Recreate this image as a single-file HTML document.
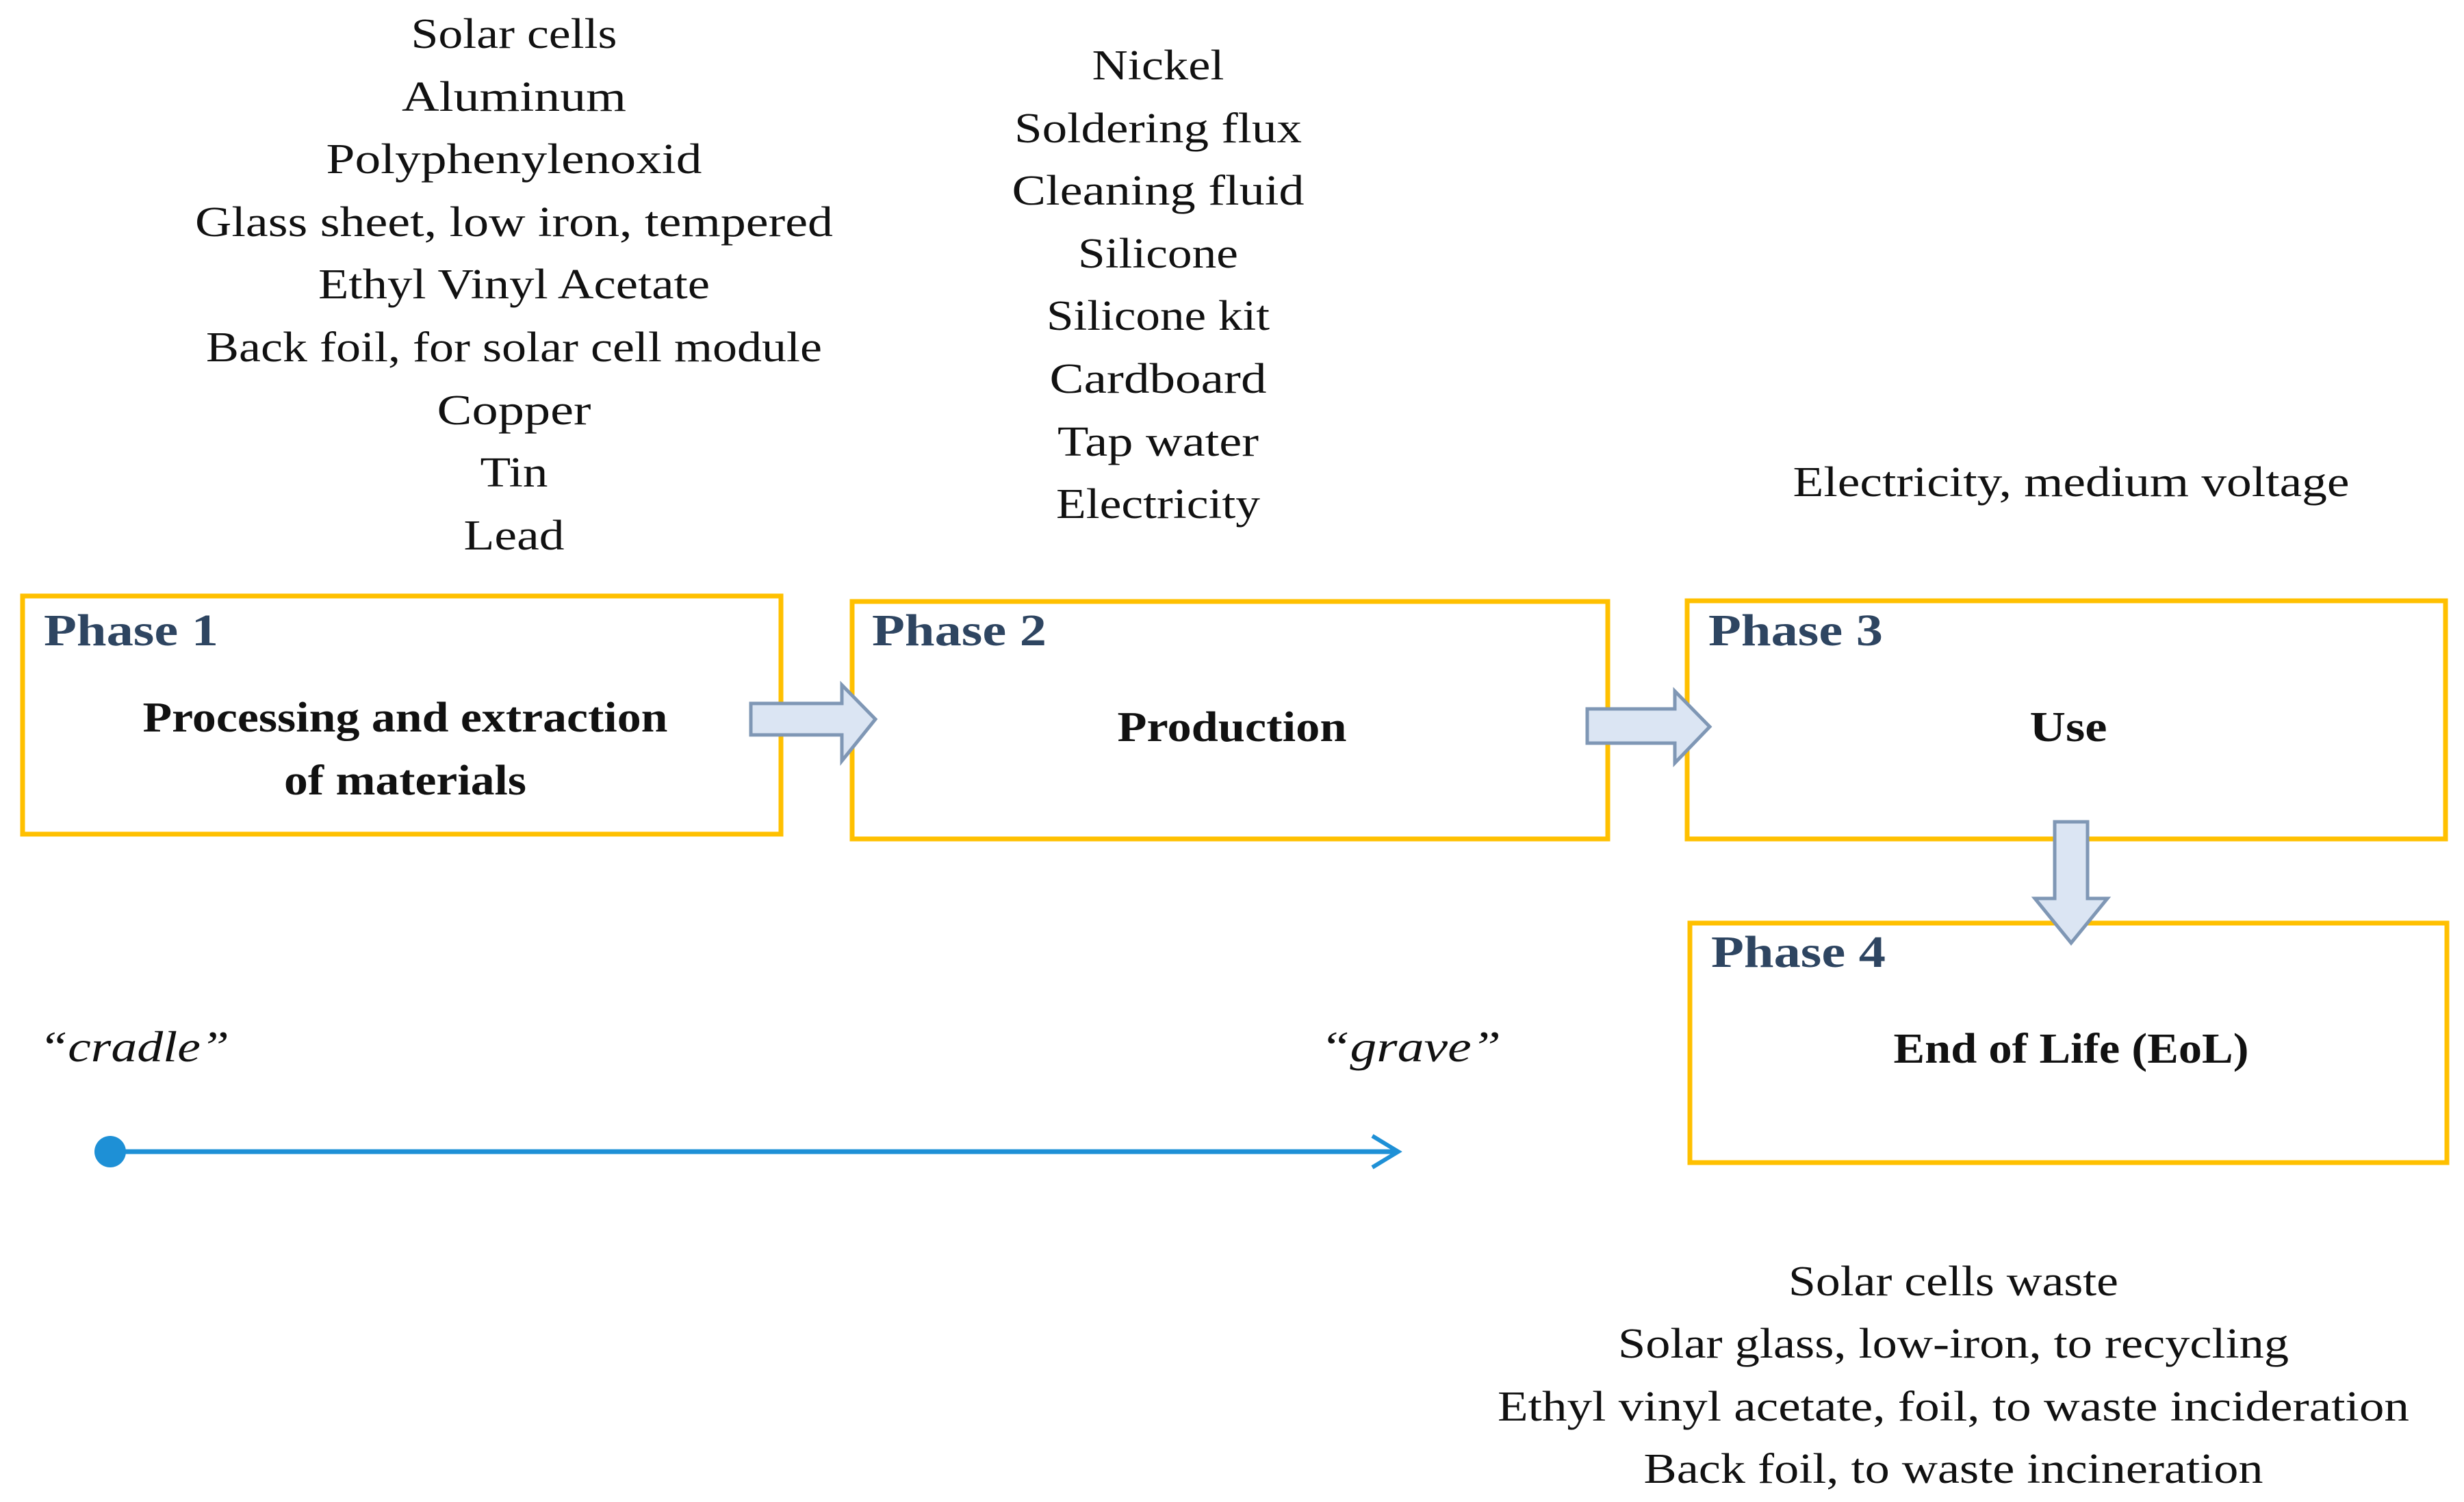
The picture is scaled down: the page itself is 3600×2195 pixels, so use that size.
<!DOCTYPE html>
<html><head><meta charset="utf-8"><style>
html,body{margin:0;padding:0;background:#fff;}
svg{display:block;}
.l{font-family:"Liberation Serif",serif;font-size:62px;fill:#111;}
.b{font-family:"Liberation Serif",serif;font-size:62px;font-weight:bold;fill:#111;}
.p{font-family:"Liberation Serif",serif;font-size:66px;font-weight:bold;fill:#2e4561;}
.i{font-family:"Liberation Serif",serif;font-size:64px;font-style:italic;fill:#111;}
</style></head><body>
<svg width="3600" height="2195" viewBox="0 0 3600 2195" xmlns="http://www.w3.org/2000/svg">
<g fill="none" stroke="#ffc000" stroke-width="7">
<rect x="33" y="871" width="1108" height="348"/>
<rect x="1245" y="879" width="1104" height="347"/>
<rect x="2465" y="878" width="1108" height="348"/>
<rect x="2469" y="1349" width="1106" height="350"/>
</g>
<g fill="#dbe5f3" stroke="#7f97b5" stroke-width="5" stroke-linejoin="miter">
<polygon points="1097,1028 1230,1028 1230,1001 1279,1051 1230,1112 1230,1074 1097,1074"/>
<polygon points="2319,1036 2447,1036 2447,1010 2498,1062 2447,1115 2447,1086 2319,1086"/>
<polygon points="3002,1201 3050,1201 3050,1313 3079,1313 3026,1378 2973,1313 3002,1313"/>
</g>
<g class="l" text-anchor="middle">
<text x="751" y="70" textLength="301" lengthAdjust="spacingAndGlyphs">Solar cells</text>
<text x="751" y="162" textLength="328" lengthAdjust="spacingAndGlyphs">Aluminum</text>
<text x="751" y="253" textLength="549" lengthAdjust="spacingAndGlyphs">Polyphenylenoxid</text>
<text x="751" y="345" textLength="932" lengthAdjust="spacingAndGlyphs">Glass sheet, low iron, tempered</text>
<text x="751" y="436" textLength="572" lengthAdjust="spacingAndGlyphs">Ethyl Vinyl Acetate</text>
<text x="751" y="528" textLength="900" lengthAdjust="spacingAndGlyphs">Back foil, for solar cell module</text>
<text x="751" y="620" textLength="225" lengthAdjust="spacingAndGlyphs">Copper</text>
<text x="751" y="711" textLength="99" lengthAdjust="spacingAndGlyphs">Tin</text>
<text x="751" y="803" textLength="147" lengthAdjust="spacingAndGlyphs">Lead</text>
<text x="1692" y="116" textLength="193" lengthAdjust="spacingAndGlyphs">Nickel</text>
<text x="1692" y="208" textLength="420" lengthAdjust="spacingAndGlyphs">Soldering flux</text>
<text x="1692" y="299" textLength="427" lengthAdjust="spacingAndGlyphs">Cleaning fluid</text>
<text x="1692" y="391" textLength="234" lengthAdjust="spacingAndGlyphs">Silicone</text>
<text x="1692" y="482" textLength="326" lengthAdjust="spacingAndGlyphs">Silicone kit</text>
<text x="1692" y="574" textLength="317" lengthAdjust="spacingAndGlyphs">Cardboard</text>
<text x="1692" y="666" textLength="294" lengthAdjust="spacingAndGlyphs">Tap water</text>
<text x="1692" y="757" textLength="298" lengthAdjust="spacingAndGlyphs">Electricity</text>
<text x="3026" y="725" textLength="813" lengthAdjust="spacingAndGlyphs">Electricity, medium voltage</text>
<text x="2854" y="1893" textLength="482" lengthAdjust="spacingAndGlyphs">Solar cells waste</text>
<text x="2854" y="1984" textLength="980" lengthAdjust="spacingAndGlyphs">Solar glass, low-iron, to recycling</text>
<text x="2854" y="2076" textLength="1332" lengthAdjust="spacingAndGlyphs">Ethyl vinyl acetate, foil, to waste incideration</text>
<text x="2854" y="2167" textLength="905" lengthAdjust="spacingAndGlyphs">Back foil, to waste incineration</text>
</g>
<g class="b" text-anchor="middle">
<text x="592" y="1069" textLength="767" lengthAdjust="spacingAndGlyphs">Processing and extraction</text>
<text x="592" y="1161" textLength="354" lengthAdjust="spacingAndGlyphs">of materials</text>
<text x="1800" y="1083" textLength="335" lengthAdjust="spacingAndGlyphs">Production</text>
<text x="3022" y="1083" textLength="113" lengthAdjust="spacingAndGlyphs">Use</text>
<text x="3026" y="1553" textLength="519" lengthAdjust="spacingAndGlyphs">End of Life (EoL)</text>
</g>
<g class="p">
<text x="64" y="943" textLength="255" lengthAdjust="spacingAndGlyphs">Phase 1</text>
<text x="1274" y="943" textLength="255" lengthAdjust="spacingAndGlyphs">Phase 2</text>
<text x="2496" y="943" textLength="255" lengthAdjust="spacingAndGlyphs">Phase 3</text>
<text x="2500" y="1413" textLength="255" lengthAdjust="spacingAndGlyphs">Phase 4</text>
</g>
<g class="i">
<text x="57" y="1551" textLength="278" lengthAdjust="spacingAndGlyphs">“cradle”</text>
<text x="1929" y="1551" textLength="264" lengthAdjust="spacingAndGlyphs">“grave”</text>
</g>
<line x1="161" y1="1683" x2="2040" y2="1683" stroke="#1e90d6" stroke-width="7"/>
<circle cx="161" cy="1683" r="23" fill="#1e90d6"/>
<polyline points="2005,1660 2043,1683 2005,1706" fill="none" stroke="#1e90d6" stroke-width="6"/>
</svg>
</body></html>
